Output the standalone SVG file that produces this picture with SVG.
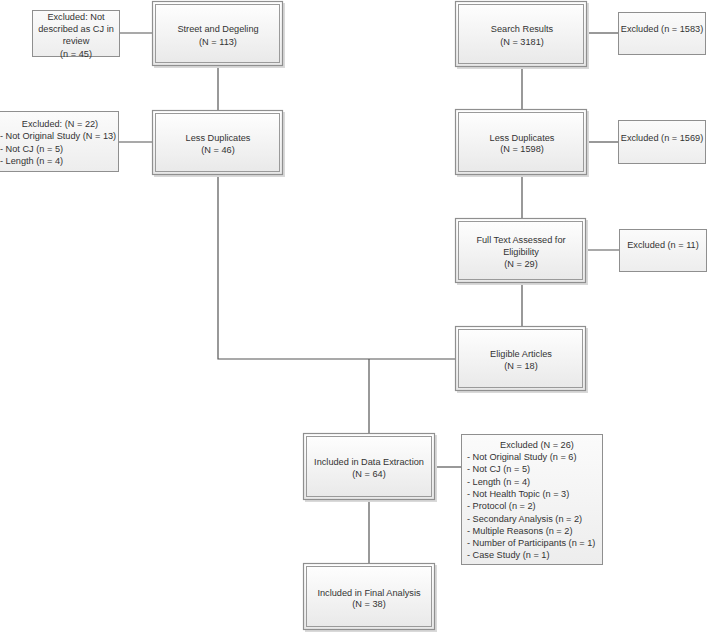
<svg xmlns="http://www.w3.org/2000/svg" width="709" height="632" viewBox="0 0 709 632">
<defs>
<linearGradient id="g" x1="0" y1="0" x2="0" y2="1">
<stop offset="0" stop-color="#ffffff"/>
<stop offset="1" stop-color="#e8e8e8"/>
</linearGradient>
<linearGradient id="g2" x1="0" y1="0" x2="0" y2="1">
<stop offset="0" stop-color="#fbfbfb"/>
<stop offset="1" stop-color="#ededed"/>
</linearGradient>
</defs>
<style>
.o{fill:url(#g);stroke:#8f8f8f;stroke-width:1.2}
.i{fill:none;stroke:#9a9a9a;stroke-width:1}
.sh{fill:#d9d9d9}
.e{fill:url(#g2);stroke:#8f8f8f;stroke-width:1}
.c{fill:none;stroke:#555;stroke-width:1.2}
text{font-family:"Liberation Sans",Arial,sans-serif;font-size:9.2px;fill:#333}
.m{text-anchor:middle}
</style>
<rect width="709" height="632" fill="#fff"/>
<g id="connectors">
<path class="c" d="M120 33H153"/>
<path class="c" d="M218 66V111"/>
<path class="c" d="M119 142H153"/>
<path class="c" d="M218 175V359H456"/>
<path class="c" d="M369 359V434"/>
<path class="c" d="M587 33H618"/>
<path class="c" d="M522 67V110"/>
<path class="c" d="M587 142H618"/>
<path class="c" d="M522 175V219"/>
<path class="c" d="M586 250H619"/>
<path class="c" d="M522 283V327"/>
<path class="c" d="M435 467H462"/>
<path class="c" d="M369 500V564"/>
</g>
<g id="street">
<rect class="sh" x="154" y="3" width="131" height="65"/>
<rect class="o" x="152.5" y="1.5" width="130" height="64"/>
<rect class="i" x="155.5" y="4.5" width="124" height="58"/>
<text class="m" x="218" y="31.5">Street and Degeling</text>
<text class="m" x="218" y="44.5">(N = 113)</text>
</g>
<g id="excl45">
<rect class="e" x="32.5" y="10.5" width="87" height="46"/>
<text class="m" x="76" y="19.5">Excluded: Not</text>
<text class="m" x="76" y="31.5">described as CJ in</text>
<text class="m" x="76" y="44">review</text>
<text class="m" x="76" y="56.5">(n = 45)</text>
</g>
<g id="lessdupL">
<rect class="sh" x="154" y="112" width="131" height="65"/>
<rect class="o" x="152.5" y="110.5" width="130" height="64"/>
<rect class="i" x="155.5" y="113.5" width="124" height="58"/>
<text class="m" x="218" y="140.5">Less Duplicates</text>
<text class="m" x="218" y="153">(N = 46)</text>
</g>
<g id="excl22">
<rect class="e" x="-0.5" y="111.5" width="119" height="60"/>
<text class="m" x="60" y="126.5">Excluded: (N = 22)</text>
<text x="0" y="139">- Not Original Study (N = 13)</text>
<text x="0" y="151.5">- Not CJ (n = 5)</text>
<text x="0" y="164">- Length (n = 4)</text>
</g>
<g id="search">
<rect class="sh" x="457" y="3" width="132" height="66"/>
<rect class="o" x="455.5" y="1.5" width="131" height="65"/>
<rect class="i" x="458.5" y="4.5" width="125" height="59"/>
<text class="m" x="522" y="31.5">Search Results</text>
<text class="m" x="522" y="44.5">(N = 3181)</text>
</g>
<g id="excl1583">
<rect class="e" x="618.5" y="12.5" width="87" height="42"/>
<text class="m" x="662" y="31.5">Excluded (n = 1583)</text>
</g>
<g id="lessdupR">
<rect class="sh" x="457" y="111" width="132" height="66"/>
<rect class="o" x="455.5" y="109.5" width="131" height="65"/>
<rect class="i" x="458.5" y="112.5" width="125" height="59"/>
<text class="m" x="522" y="140.5">Less Duplicates</text>
<text class="m" x="522" y="152">(N = 1598)</text>
</g>
<g id="excl1569">
<rect class="e" x="618.5" y="120.5" width="87" height="43"/>
<text class="m" x="662" y="140.5">Excluded (n = 1569)</text>
</g>
<g id="fulltext">
<rect class="sh" x="457" y="220" width="131" height="65"/>
<rect class="o" x="455.5" y="218.5" width="130" height="64"/>
<rect class="i" x="458.5" y="221.5" width="124" height="58"/>
<text class="m" x="521" y="242.5">Full Text Assessed for</text>
<text class="m" x="521" y="254.5">Eligibility</text>
<text class="m" x="521" y="266.5">(N = 29)</text>
</g>
<g id="excl11">
<rect class="e" x="619.5" y="229.5" width="87" height="42"/>
<text class="m" x="663" y="247.5">Excluded (n = 11)</text>
</g>
<g id="eligible">
<rect class="sh" x="457" y="328" width="131" height="65"/>
<rect class="o" x="455.5" y="326.5" width="130" height="64"/>
<rect class="i" x="458.5" y="329.5" width="124" height="58"/>
<text class="m" x="521" y="356.5">Eligible Articles</text>
<text class="m" x="521" y="368.5">(N = 18)</text>
</g>
<g id="extraction">
<rect class="sh" x="305" y="435" width="132" height="67"/>
<rect class="o" x="303.5" y="433.5" width="131" height="66"/>
<rect class="i" x="306.5" y="436.5" width="125" height="60"/>
<text class="m" x="369" y="464.5">Included in Data Extraction</text>
<text class="m" x="369" y="476.5">(N = 64)</text>
</g>
<g id="excl26">
<rect class="e" x="461.5" y="434.5" width="141" height="130"/>
<text class="m" x="537" y="447.5">Excluded (N = 26)</text>
<text x="467" y="460">- Not Original Study (n = 6)</text>
<text x="467" y="472.3">- Not CJ (n = 5)</text>
<text x="467" y="484.6">- Length (n = 4)</text>
<text x="467" y="496.9">- Not Health Topic (n = 3)</text>
<text x="467" y="509.2">- Protocol (n = 2)</text>
<text x="467" y="521.5">- Secondary Analysis (n = 2)</text>
<text x="467" y="533.8">- Multiple Reasons (n = 2)</text>
<text x="467" y="546.1">- Number of Participants (n = 1)</text>
<text x="467" y="558.4">- Case Study (n = 1)</text>
</g>
<g id="final">
<rect class="sh" x="305" y="565" width="132" height="67"/>
<rect class="o" x="303.5" y="563.5" width="131" height="66"/>
<rect class="i" x="306.5" y="566.5" width="125" height="60"/>
<text class="m" x="369" y="595.5">Included in Final Analysis</text>
<text class="m" x="369" y="607">(N = 38)</text>
</g>
</svg>
